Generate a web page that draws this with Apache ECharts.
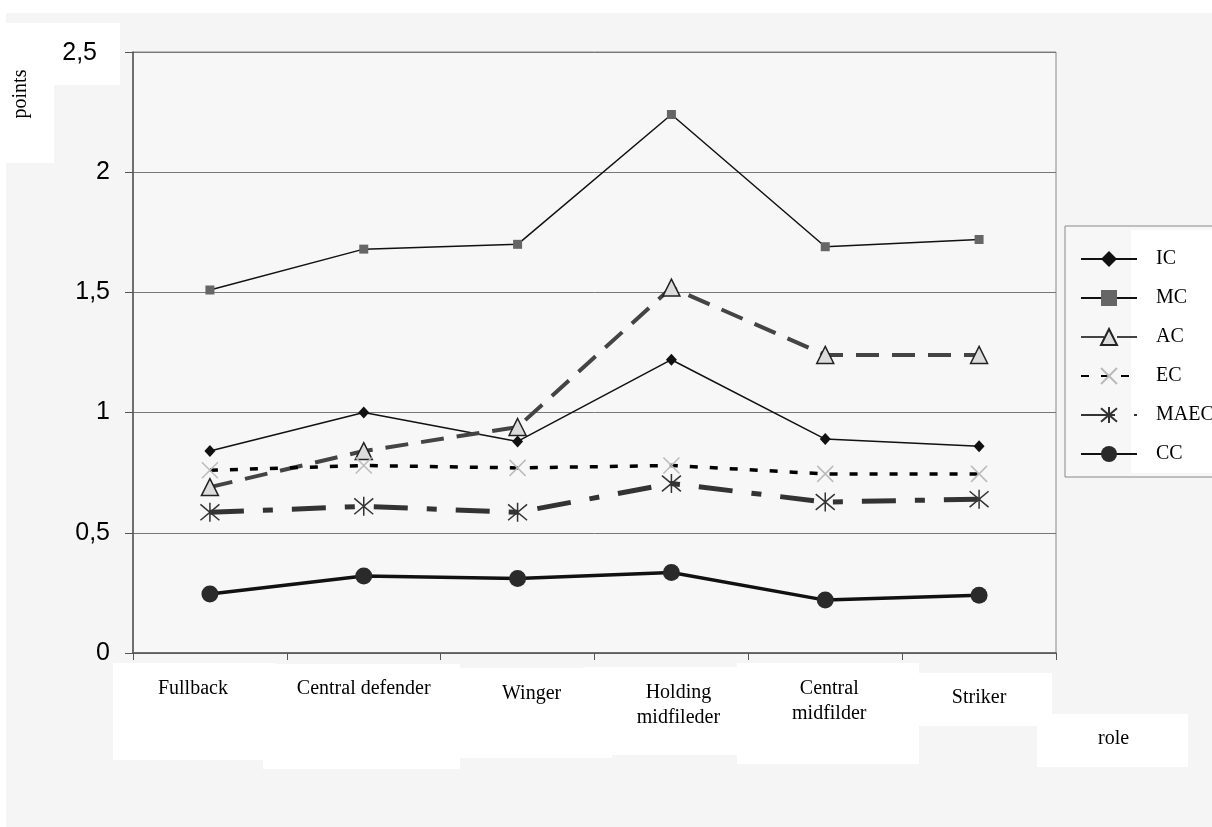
<!DOCTYPE html>
<html>
<head>
    <title>Points by role</title>
    <meta charset="utf-8">
    <script src="https://cdn.jsdelivr.net/npm/echarts@6/dist/echarts.min.js"></script>
    <style>
        html, body { margin: 0; padding: 0; background: #fff; }
    </style>
</head>
<body>
    <div id="main" style="width: 1212px;height:827px;"></div>

    <script type="text/javascript">
        var chart = echarts.init(document.getElementById('main'));

        // roles on the x axis
        var roles = ['Fullback', 'Central defender', 'Winger', 'Holding\nmidfileder', 'Central\nmidfilder', 'Striker'];

        // values
        var IC = [0.84, 1.0, 0.88, 1.22, 0.89, 0.86];
        var MC = [1.51, 1.68, 1.70, 2.24, 1.69, 1.72];
        var AC = [0.69, 0.84, 0.94, 1.52, 1.24, 1.24];
        var EC = [0.76, 0.78, 0.77, 0.78, 0.745, 0.745];
        var MAEC = [0.585, 0.61, 0.585, 0.705, 0.628, 0.64];
        var CC = [0.245, 0.32, 0.31, 0.335, 0.22, 0.24];

        var serif = '"Liberation Serif", "Times New Roman", serif';
        var sans = '"Liberation Sans", Arial, sans-serif';

        // small per-label nudges so the labels sit like the original
        var labelPad = [
            [0, 34, 0, 0],
            [0, 0, 0, 0],
            [5, 0, 0, 28],
            [4, 0, 0, 14],
            [0, 0, 0, 8],
            [9, 0, 0, 0]
        ];
        var catData = roles.map(function(r, i) {
            return { value: r, textStyle: { padding: labelPad[i] } };
        });

        // white patches behind the labels
        function patch(x, y, w, h) {
            return { type: 'rect', z: -5, silent: true, shape: { x: x, y: y, width: w, height: h }, style: { fill: '#ffffff' } };
        }

        var crossPath = 'path://M0,0L10,10M10,0L0,10';
        var starPath = 'path://M0,0L10,10M10,0L0,10M5,-1L5,11';

        var option = {
            animation: false,
            backgroundColor: '#ffffff',
            graphic: [
                { type: 'rect', z: -10, silent: true, shape: { x: 6, y: 13, width: 1206, height: 814 }, style: { fill: '#f5f5f5' } },
                patch(6, 23, 114, 62),
                patch(6, 23, 48, 140),
                patch(113, 663, 162, 97),
                patch(263, 664, 197, 105),
                patch(460, 668, 152, 90),
                patch(583, 667, 154, 88),
                patch(737, 663, 182, 101),
                patch(919, 673, 133, 53),
                patch(1037, 714, 151, 53),
                { type: 'rect', z: -5, silent: true, shape: { x: 1065, y: 226, width: 150, height: 251 }, style: { fill: '#f7f7f7', stroke: '#888', lineWidth: 1 } },
                patch(1131, 230, 81, 243),
                {
                    type: 'text', z: 5, x: 21, y: 94, rotation: Math.PI / 2,
                    style: { text: 'points', font: '20px ' + serif, fill: '#000', align: 'center', verticalAlign: 'middle' }
                }
            ],
            legend: {
                orient: 'vertical',
                left: 1075,
                top: 244,
                itemWidth: 56,
                itemHeight: 20,
                itemGap: 19,
                textStyle: { fontFamily: serif, fontSize: 20, color: '#000', padding: [0, 0, 0, 14] },
                data: ['IC', 'MC', 'AC', 'EC', 'MAEC', 'CC']
            },
            grid: {
                left: 133,
                right: 156,
                top: 52,
                bottom: 174,
                show: true,
                backgroundColor: '#f7f7f7',
                borderColor: '#888',
                borderWidth: 1
            },
            xAxis: {
                type: 'category',
                data: catData,
                boundaryGap: true,
                name: 'role',
                nameLocation: 'end',
                nameGap: 42,
                nameTextStyle: { fontFamily: serif, fontSize: 20, color: '#000', verticalAlign: 'top', padding: [76, 0, 0, 0] },
                axisLine: { lineStyle: { color: '#555', width: 1.5 } },
                axisTick: { show: true, length: 7, lineStyle: { color: '#555' } },
                axisLabel: { interval: 0, margin: 23, fontFamily: serif, fontSize: 20, color: '#000', lineHeight: 25 },
                splitLine: { show: false }
            },
            yAxis: {
                type: 'value',
                min: 0,
                max: 2.5,
                interval: 0.5,
                axisLine: { show: true, lineStyle: { color: '#555', width: 1.5 } },
                axisTick: { show: true, length: 8, lineStyle: { color: '#555' } },
                axisLabel: {
                    margin: 23,
                    fontFamily: sans,
                    fontSize: 25,
                    color: '#000',
                    formatter: function(v) {
                        var s = String(v).replace('.', ',');
                        return v === 2.5 ? '{top|' + s + '}' : s;
                    },
                    rich: { top: { fontFamily: sans, fontSize: 25, color: '#000', padding: [2, 13, 0, 0] } }
                },
                splitLine: { show: true, lineStyle: { color: '#777', width: 1 } }
            },
            series: [{
                name: 'IC',
                type: 'line',
                data: IC,
                symbol: 'diamond',
                symbolSize: [11, 12],
                itemStyle: { color: '#111' },
                lineStyle: { color: '#111', width: 1.5 }
            }, {
                name: 'MC',
                type: 'line',
                data: MC,
                symbol: 'rect',
                symbolSize: 9,
                itemStyle: { color: '#666' },
                lineStyle: { color: '#111', width: 1.5 }
            }, {
                name: 'AC',
                type: 'line',
                data: AC,
                symbol: 'triangle',
                symbolSize: 17,
                itemStyle: { color: '#dcdcdc', borderColor: '#222', borderWidth: 1.5 },
                lineStyle: { color: '#444', width: 4, type: [23, 13] }
            }, {
                name: 'EC',
                type: 'line',
                data: EC,
                symbol: crossPath,
                symbolSize: 16,
                itemStyle: { color: 'rgba(0,0,0,0)', borderColor: '#bbb', borderWidth: 1.5 },
                lineStyle: { color: '#000', width: 3.5, type: [8, 12] }
            }, {
                name: 'MAEC',
                type: 'line',
                data: MAEC,
                symbol: starPath,
                symbolSize: 19,
                itemStyle: { color: 'rgba(0,0,0,0)', borderColor: '#333', borderWidth: 1.5 },
                lineStyle: { color: '#333', width: 5, type: [34, 19, 10, 19] }
            }, {
                name: 'CC',
                type: 'line',
                data: CC,
                symbol: 'circle',
                symbolSize: 17,
                itemStyle: { color: '#2a2a2a' },
                lineStyle: { color: '#111', width: 3.5 }
            }]
        };

        chart.setOption(option);
    </script>
</body>
</html>
